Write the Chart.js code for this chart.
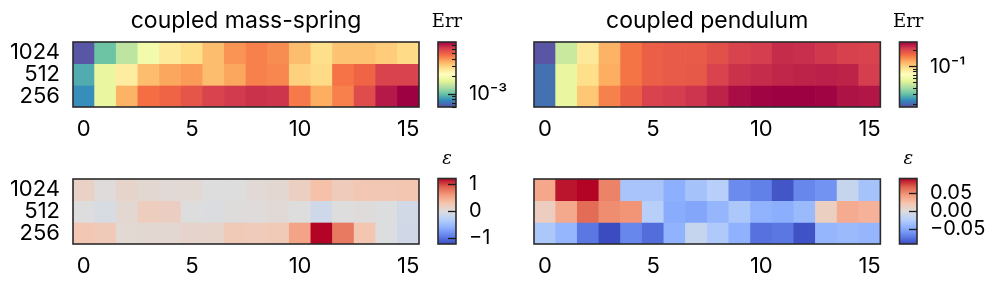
<!DOCTYPE html>
<html><head><meta charset="utf-8">
<script src="https://cdn.jsdelivr.net/npm/chart.js@4.4.1/dist/chart.umd.min.js"></script>
<style>
html,body{margin:0;padding:0;background:#fff;}
#wrap{position:relative;width:997px;height:290px;overflow:hidden;background:#fff;}
canvas{position:absolute;}
</style></head><body><div id="wrap">
<canvas id="hmTL" width="430" height="140" style="left:0px;top:0px"></canvas>
<canvas id="hmTR" width="430" height="140" style="left:460px;top:0px"></canvas>
<canvas id="hmBL" width="430" height="150" style="left:0px;top:140px"></canvas>
<canvas id="hmBR" width="430" height="150" style="left:460px;top:140px"></canvas>
<canvas id="cbTL" width="100" height="140" style="left:425px;top:0px"></canvas>
<canvas id="cbTR" width="112" height="140" style="left:885px;top:0px"></canvas>
<canvas id="cbBL" width="100" height="150" style="left:425px;top:140px"></canvas>
<canvas id="cbBR" width="112" height="150" style="left:885px;top:140px"></canvas>
</div>
<script>
// ---------------- data ----------------
const columns = [0,1,2,3,4,5,6,7,8,9,10,11,12,13,14,15];
const rowLabels = ['256','512','1024'];          // bottom -> top
const xTickValues = [0,5,10,15];
const titles = ['coupled mass-spring','coupled pendulum'];

// Err, coupled mass-spring
const massSpring1024 = [6.2e-4,1.03e-3,1.41e-3,1.92e-3,2.62e-3,2.84e-3,3.40e-3,4.08e-3,4.41e-3,4.19e-3,3.40e-3,2.84e-3,3.32e-3,3.32e-3,3.15e-3,2.91e-3];
const massSpring512  = [9.1e-4,1.78e-3,2.56e-3,3.40e-3,3.78e-3,3.97e-3,3.40e-3,3.78e-3,4.41e-3,4.30e-3,3.07e-3,2.91e-3,4.65e-3,5.02e-3,6.01e-3,6.01e-3];
const massSpring256  = [8.0e-4,1.78e-3,3.58e-3,4.76e-3,5.02e-3,5.42e-3,6.01e-3,6.25e-3,6.50e-3,6.41e-3,4.52e-3,3.68e-3,4.41e-3,5.71e-3,7.21e-3,8.0e-3];
// Err, coupled pendulum
const pendulum1024 = [0.0182,0.0471,0.0871,0.122,0.161,0.180,0.185,0.185,0.196,0.213,0.219,0.238,0.235,0.225,0.216,0.213];
const pendulum512  = [0.0209,0.0573,0.0946,0.125,0.161,0.180,0.185,0.188,0.213,0.232,0.238,0.245,0.248,0.252,0.248,0.219];
const pendulum256  = [0.0209,0.0573,0.109,0.152,0.180,0.213,0.219,0.229,0.248,0.274,0.286,0.295,0.295,0.286,0.267,0.263];
// epsilon, coupled mass-spring
const massSpringEps1024 = [0.15,0.02,0.12,0.07,0.05,0.06,0.0,0.0,0.05,0.07,0.17,0.33,0.22,0.27,0.27,0.28];
const massSpringEps512  = [0.0,-0.05,0.07,0.2,0.18,0.0,-0.02,0.01,0.02,0.05,0.0,-0.12,0.0,0.02,-0.01,-0.1];
const massSpringEps256  = [0.27,0.23,0.06,0.07,0.07,0.11,0.12,0.24,0.22,0.24,0.54,1.22,0.78,0.28,-0.01,-0.11];
// epsilon, coupled pendulum
const pendulumEps1024 = [0.038,0.086,0.09,0.054,-0.031,-0.031,-0.045,-0.032,-0.023,-0.063,-0.068,-0.086,-0.065,-0.059,-0.014,-0.032];
const pendulumEps512  = [0.014,0.037,0.063,0.05,0.047,-0.023,-0.047,-0.05,-0.041,-0.029,-0.043,-0.046,-0.038,0.013,0.036,0.032];
const pendulumEps256  = [-0.029,-0.041,-0.072,-0.09,-0.065,-0.076,-0.043,-0.014,-0.027,-0.044,-0.074,-0.072,-0.087,-0.041,-0.038,-0.041];

// colour ranges and colorbar ticks
const errRangeMS = [6.0e-4, 8.0e-3];
const errRangePend = [1.77e-2, 0.29];
const epsMaxMS = 1.22;
const epsMaxPend = 0.09;
const errMajorMS = [1e-3];
const errMinorMS = [6e-4,7e-4,8e-4,9e-4,2e-3,3e-3,4e-3,5e-3,6e-3,7e-3];
const errMajorPend = [1e-1];
const errMinorPend = [2e-2,3e-2,4e-2,5e-2,6e-2,7e-2,8e-2,9e-2,2e-1];
const epsTicksMS = [-1,0,1];
const epsTicksPend = [-0.05,0,0.05];

// ---------------- styling ----------------
const SANS = 'Inter, "DejaVu Sans", sans-serif';
const SPECTRAL_R = ['#5e4fa2','#3288bd','#66c2a5','#abdda4','#e6f598','#ffffbf','#fee08b','#fdae61','#f46d43','#d53e4f','#9e0142'];
const COOLWARM = ['#3b4cc0','#6282ea','#8db0fe','#b8d0f9','#dddddd','#f5c4ad','#f49a7b','#de604d','#b40426'];

function hexRgb(h){return [parseInt(h.slice(1,3),16),parseInt(h.slice(3,5),16),parseInt(h.slice(5,7),16)];}
function sample(stops,t){
  t=Math.max(0,Math.min(1,t)); const n=stops.length-1; const f=t*n; const i=Math.min(Math.floor(f),n-1); const u=f-i;
  const a=hexRgb(stops[i]), b=hexRgb(stops[i+1]);
  return 'rgb('+a.map((v,k)=>Math.round(v+(b[k]-v)*u)).join(',')+')';
}
const logNorm = r => v => (Math.log10(v)-Math.log10(r[0]))/(Math.log10(r[1])-Math.log10(r[0]));
const symNorm = m => v => (v+m)/(2*m);

const framePlugin = {
  id:'frame',
  afterDatasetsDraw(chart){
    const a=chart.chartArea, c=chart.ctx;
    c.save(); c.strokeStyle='#2b2b2b'; c.lineWidth=1.6;
    c.strokeRect(a.left,a.top,a.right-a.left,a.bottom-a.top); c.restore();
  }
};
const cbTitlePlugin = {
  id:'cbTitle',
  afterDraw(chart,args,o){
    if(!o || !o.text) return;
    const a=chart.chartArea, c=chart.ctx;
    c.save(); c.font=o.font; c.fillStyle='#000'; c.textAlign='center'; c.textBaseline='alphabetic';
    c.fillText(o.text,(a.left+a.right)/2+(o.dx||0),o.y); c.restore();
  }
};

function heatmap(id, rows, cmap, norm, o){
  const data=[];
  rows.forEach((vals,r)=>vals.forEach((v,c)=>data.push({x:columns[c], y:[r-0.5,r+0.5], v})));
  new Chart(document.getElementById(id),{
    type:'bar',
    data:{datasets:[{data, backgroundColor:ctx=>sample(cmap,norm(ctx.raw.v)), borderWidth:0,
      barPercentage:1, categoryPercentage:1, grouped:false}]},
    options:{
      responsive:false, animation:false, events:[],
      layout:{padding:{top:o.padTop, right:o.padRight, left:0, bottom:0}},
      plugins:{legend:{display:false}, tooltip:{enabled:false},
        title: o.title ? {display:true, text:o.title, color:'#000', fullSize:false,
          font:{family:SANS, size:23, weight:'normal', lineHeight:1.2}, padding:{top:7.2, bottom:7.2}} : {display:false}},
      scales:{
        x:{type:'linear', min:-0.5, max:15.5, offset:false,
          grid:{display:false, drawTicks:false}, border:{display:false},
          ticks:{color:'#000', font:{family:SANS, size:22}, padding:9, autoSkip:false, maxRotation:0},
          afterBuildTicks:s=>{s.ticks=xTickValues.map(v=>({value:v}));},
          afterFit:s=>{s.height=o.xHeight;}},
        y:{type:'linear', min:-0.5, max:2.5,
          grid:{display:false, drawTicks:false}, border:{display:false},
          ticks:{display:o.yLabels, color:'#000', font:{family:SANS, size:22}, padding:13, autoSkip:false,
            callback:v=>rowLabels[v]},
          afterBuildTicks:s=>{s.ticks=rowLabels.map((l,i)=>({value:i}));},
          afterFit:s=>{s.width=o.yWidth;}}
      }
    },
    plugins:[framePlugin]
  });
}

function colorbar(id, cmap, o){
  const scales={
    x:{display:false},
    y:{type:o.type, position:'right', min:o.min, max:o.max, weight:1,
      grid:{display:true, drawOnChartArea:false, drawTicks:true, tickLength:-o.majorLen, tickColor:'#1a1a1a', tickWidth:1.3, z:2},
      border:{display:false},
      ticks:{color:'#000', font:{family:SANS, size:20}, padding:o.majorLen+13, autoSkip:false, callback:(v)=>o.label(v)},
      afterBuildTicks:s=>{s.ticks=o.major.map(v=>({value:v}));},
      afterFit:s=>{s.width=o.axisWidth;}}
  };
  if(o.minor){
    scales.y2={type:o.type, position:'right', min:o.min, max:o.max, weight:0,
      grid:{display:true, drawOnChartArea:false, drawTicks:true, tickLength:-4, tickColor:'#1a1a1a', tickWidth:1.1, z:2},
      border:{display:false}, ticks:{display:false, autoSkip:false},
      afterBuildTicks:s=>{s.ticks=o.minor.map(v=>({value:v}));},
      afterFit:s=>{s.width=0;}};
  }
  new Chart(document.getElementById(id),{
    type:'bar',
    data:{labels:[''], datasets:[{data:[[o.min,o.max]], barPercentage:1, categoryPercentage:1, borderWidth:0,
      backgroundColor:ctx=>{
        const a=ctx.chart.chartArea; if(!a) return '#888';
        const g=ctx.chart.ctx.createLinearGradient(0,a.bottom,0,a.top);
        cmap.forEach((c,i)=>g.addColorStop(i/(cmap.length-1),c)); return g;}}]},
    options:{
      responsive:false, animation:false, events:[],
      layout:{padding:{left:o.padLeft, top:o.padTop, bottom:o.padBottom, right:0}},
      plugins:{legend:{display:false}, tooltip:{enabled:false}, cbTitle:o.cbTitle},
      scales
    },
    plugins:[framePlugin, cbTitlePlugin]
  });
}

// ---------------- charts ----------------
heatmap('hmTL',[massSpring256,massSpring512,massSpring1024],SPECTRAL_R,logNorm(errRangeMS),
  {title:titles[0], padTop:0, padRight:11, xHeight:33, yWidth:73, yLabels:true});
heatmap('hmTR',[pendulum256,pendulum512,pendulum1024],SPECTRAL_R,logNorm(errRangePend),
  {title:titles[1], padTop:0, padRight:9, xHeight:33, yWidth:74, yLabels:false});
heatmap('hmBL',[massSpringEps256,massSpringEps512,massSpringEps1024],COOLWARM,symNorm(epsMaxMS),
  {padTop:39, padRight:11, xHeight:46, yWidth:73, yLabels:true});
heatmap('hmBR',[pendulumEps256,pendulumEps512,pendulumEps1024],COOLWARM,symNorm(epsMaxPend),
  {padTop:39, padRight:9, xHeight:46, yWidth:74, yLabels:false});

const supMinus = {'-3':'10\u207B\u00B3','-1':'10\u207B\u00B9'};
colorbar('cbTL',SPECTRAL_R,{type:'logarithmic', min:errRangeMS[0], max:errRangeMS[1], major:errMajorMS, minor:errMinorMS,
  majorLen:8, label:v=>supMinus[String(Math.round(Math.log10(v)))], padLeft:13, padTop:42, padBottom:33, axisWidth:69,
  cbTitle:{text:'Err', font:'18px "DejaVu Serif", serif', y:26.5}});
colorbar('cbTR',SPECTRAL_R,{type:'logarithmic', min:errRangePend[0], max:errRangePend[1], major:errMajorPend, minor:errMinorPend,
  majorLen:8, label:v=>supMinus[String(Math.round(Math.log10(v)))], padLeft:14.5, padTop:42, padBottom:33, axisWidth:80,
  cbTitle:{text:'Err', font:'18px "DejaVu Serif", serif', y:26.5}});
colorbar('cbBL',COOLWARM,{type:'linear', min:-epsMaxMS, max:epsMaxMS, major:epsTicksMS,
  majorLen:8, label:v=>(v<0?'\u2212':'')+Math.abs(v).toFixed(0), padLeft:13, padTop:38.5, padBottom:46, axisWidth:69,
  cbTitle:{text:'\u03B5', font:'italic 18px "DejaVu Serif", serif', y:23.5}});
colorbar('cbBR',COOLWARM,{type:'linear', min:-epsMaxPend, max:epsMaxPend, major:epsTicksPend,
  majorLen:8, label:v=>(v<0?'\u2212':'')+Math.abs(v).toFixed(2), padLeft:14.5, padTop:38.5, padBottom:46, axisWidth:80,
  cbTitle:{text:'\u03B5', font:'italic 18px "DejaVu Serif", serif', y:23.5}});
</script>
</body></html>
